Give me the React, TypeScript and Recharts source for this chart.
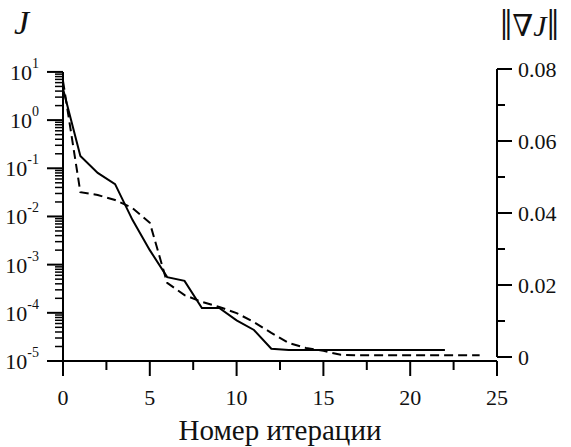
import { LineChart, Line, XAxis, YAxis, ReferenceLine } from "recharts";

// iteration number
const iterations = Array.from({ length: 25 }, (_, i) => i);

// J (left, log scale), iterations 0..22
const jValues = [
  4.5, 0.18, 0.08, 0.047, 0.0085, 0.002, 5.5e-4, 4.6e-4, 1.26e-4, 1.26e-4, 7e-5,
  4.4e-5, 1.8e-5, 1.7e-5, 1.7e-5, 1.7e-5, 1.7e-5, 1.7e-5, 1.7e-5, 1.7e-5, 1.7e-5,
  1.7e-5, 1.7e-5,
];

// ||grad J|| (right, linear), iterations 0..24
const gradValues = [
  0.0767, 0.0458, 0.045, 0.0436, 0.0414, 0.0373, 0.0206, 0.0172, 0.0153, 0.0139,
  0.0122, 0.0097, 0.0067, 0.0039, 0.0025, 0.0017, 0.0006, 0.0005, 0.0005, 0.0005,
  0.0005, 0.0005, 0.0005, 0.0005, 0.0005,
];

const xTicks = [0, 2.5, 5, 7.5, 10, 12.5, 15, 17.5, 20, 22.5, 25];
const logTicks = [-5, -4, -3, -2, -1, 0]
  .flatMap((p) => [1, 2, 3, 4, 5, 6, 7, 8, 9].map((m) => m * Math.pow(10, p)))
  .concat([10]);
const rightTicks = [0, 0.01, 0.02, 0.03, 0.04, 0.05, 0.06, 0.07, 0.08];

const data = iterations.map((it) => ({
  it,
  j: jValues[it],
  grad: gradValues[it],
}));

const serif = { fontFamily: "Liberation Serif, DejaVu Serif, serif" };

function LogTick(props: any) {
  const { x, y, payload } = props;
  const p = Math.log10(payload.value);
  const major = Math.abs(p - Math.round(p)) < 1e-6;
  const e = Math.round(p);
  return (
    <g>
      <line x1={x - (major ? 16 : 8)} x2={x} y1={y} y2={y} stroke="#000" strokeWidth={major ? 2 : 1.5} />
      {major && (
        <text x={x - 24} y={y + 8} textAnchor="end" style={serif} fontSize={22} fill="#111">
          10
          <tspan dy={-12} fontSize={14}>
            {e < 0 ? "-" + Math.abs(e) : String(e)}
          </tspan>
        </text>
      )}
    </g>
  );
}

function RightTick(props: any) {
  const { x, y, payload } = props;
  const v = payload.value;
  const major = Math.round(v * 100) % 2 === 0;
  return (
    <g>
      <line x1={x} x2={x + (major ? 15 : 8)} y1={y} y2={y} stroke="#000" strokeWidth={2} />
      {major && (
        <text x={x + 21} y={y + 7.5} style={serif} fontSize={22} fill="#111">
          {v === 0 ? "0" : v.toFixed(2)}
        </text>
      )}
    </g>
  );
}

function XTick(props: any) {
  const { x, y, payload } = props;
  const v = payload.value;
  const major = v % 5 === 0;
  return (
    <g>
      <line x1={x} x2={x} y1={y} y2={y + (major ? 15 : 9)} stroke="#000" strokeWidth={2} />
      {major && (
        <text x={x} y={y + 44} textAnchor="middle" style={serif} fontSize={22} fill="#111">
          {v}
        </text>
      )}
    </g>
  );
}

export default function App() {
  return (
    <div style={{ position: "absolute", left: 0, top: 0, width: 571, height: 447, background: "#fff" }}>
      <LineChart width={571} height={447} data={data} margin={{ top: 69, right: 0, bottom: 0, left: 0 }}>
        <XAxis
          dataKey="it"
          type="number"
          domain={[0, 25]}
          ticks={xTicks}
          interval={0}
          height={86}
          tickSize={0}
          tickMargin={0}
          tickLine={false}
          tick={<XTick />}
          axisLine={{ stroke: "#000", strokeWidth: 2 }}
          label={{
            content: () => (
              <text x={280} y={440} textAnchor="middle" style={serif} fontSize={29} fill="#111">
                Номер итерации
              </text>
            ),
          }}
        />
        <YAxis
          yAxisId="left"
          scale="log"
          type="number"
          domain={[1e-5, 11.5]}
          allowDataOverflow
          ticks={logTicks}
          interval={0}
          width={63}
          tickSize={0}
          tickMargin={0}
          tickLine={false}
          axisLine={false}
          tick={<LogTick />}
          label={{
            content: () => (
              <text x={14} y={34} style={serif} fontStyle="italic" fontSize={34} fill="#111">
                J
              </text>
            ),
          }}
        />
        <YAxis
          yAxisId="right"
          orientation="right"
          type="number"
          domain={[-0.00111, 0.08]}
          allowDataOverflow
          ticks={rightTicks}
          interval={0}
          width={74}
          tickSize={0}
          tickMargin={0}
          tickLine={false}
          axisLine={false}
          tick={<RightTick />}
          label={{
            content: () => (
              <text x={500} y={40} style={serif} fill="#111">
                <tspan fontSize={44}>‖</tspan>
                <tspan fontSize={30} dy={-4}>∇</tspan>
                <tspan fontSize={30} fontStyle="italic">J</tspan>
                <tspan fontSize={44} dy={4}>‖</tspan>
              </text>
            ),
          }}
        />
        <ReferenceLine
          yAxisId="left"
          segment={[
            { x: 0, y: 1e-5 },
            { x: 0, y: 10 },
          ]}
          stroke="#000"
          strokeWidth={2}
        />
        <ReferenceLine
          yAxisId="right"
          segment={[
            { x: 25, y: 0 },
            { x: 25, y: 0.08 },
          ]}
          stroke="#000"
          strokeWidth={2}
        />
        <Line
          yAxisId="left"
          dataKey="j"
          stroke="#000"
          strokeWidth={2}
          dot={false}
          isAnimationActive={false}
        />
        <Line
          yAxisId="right"
          dataKey="grad"
          stroke="#000"
          strokeWidth={2}
          strokeDasharray="9 5"
          dot={false}
          isAnimationActive={false}
        />
      </LineChart>
    </div>
  );
}
